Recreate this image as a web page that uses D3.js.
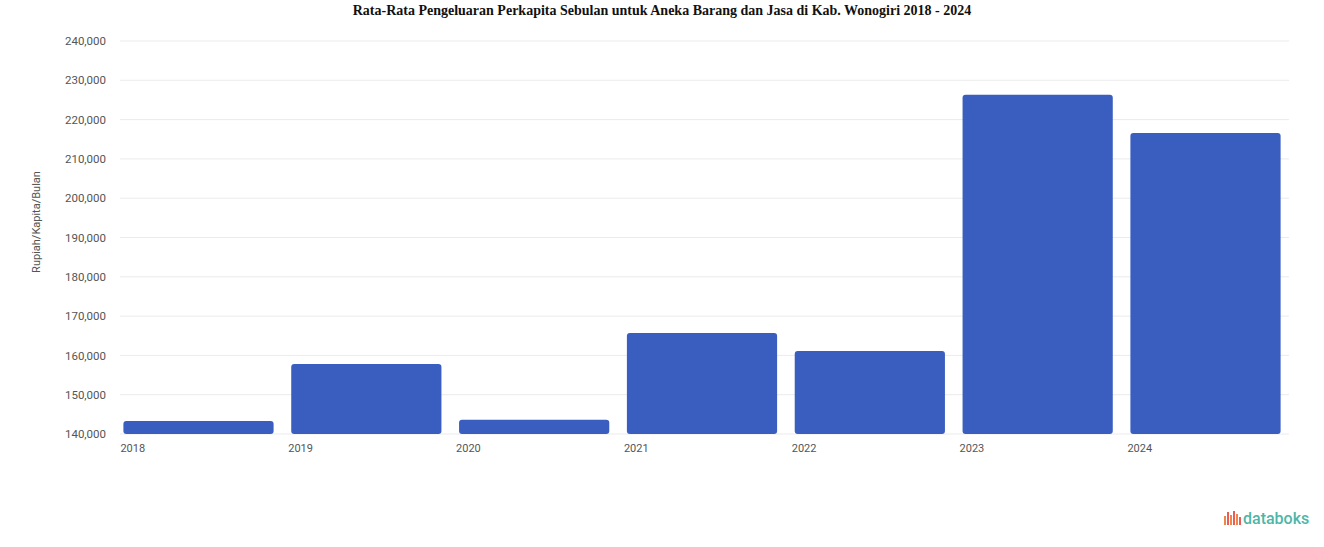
<!DOCTYPE html>
<html>
<head>
<meta charset="utf-8">
<script src="https://cdn.jsdelivr.net/npm/d3@7"></script>
<style>
  body{margin:0;background:#fff;}
  svg{display:block;}
</style>
</head>
<body>
<script>
var w=1324;
var h=547;

// data
var years=["2018","2019","2020","2021","2022","2023","2024"];
var values=[143300,157800,143600,165700,161100,226300,216600];
var yTicks=[140000,150000,160000,170000,180000,190000,200000,210000,220000,230000,240000];

var title="Rata-Rata Pengeluaran Perkapita Sebulan untuk Aneka Barang dan Jasa di Kab. Wonogiri 2018 - 2024";
var yTitle="Rupiah/Kapita/Bulan";

var margin={left:115,right:35,top:41,bottom:113};

var svg=d3.select("body").append("svg")
  .attr("width",w).attr("height",h);

var x=d3.scaleBand().domain(years)
  .range([margin.left,w-margin.right])
  .paddingInner(0.105).paddingOuter(0.05);

var y=d3.scaleLinear().domain([140000,240000])
  .range([h-margin.bottom,margin.top]);

// grid
svg.append("g").selectAll("line")
  .data(yTicks)
  .enter()
  .append("line")
  .attr("x1",margin.left+5).attr("x2",w-margin.right)
  .attr("y1",function(d){return y(d);}).attr("y2",function(d){return y(d);})
  .attr("stroke","#ebebeb").attr("stroke-width",1);

// y axis
var yAxis=d3.axisLeft(y).tickValues(yTicks)
  .tickFormat(d3.format(",")).tickSize(0).tickPadding(6);
var ya=svg.append("g").attr("transform","translate("+(margin.left-3)+",0)").call(yAxis);
ya.select(".domain").remove();
ya.selectAll("text").attr("fill","#555").style("font-family","Roboto, sans-serif").style("font-size","11.5px");

// bars
svg.append("g").selectAll("rect")
  .data(values)
  .enter()
  .append("rect")
  .attr("x",function(d,i){return x(years[i]);})
  .attr("y",function(d){return y(d);})
  .attr("width",x.bandwidth())
  .attr("height",function(d){return y(140000)-y(d);})
  .attr("rx",3)
  .attr("fill","#3a5dc0");

// x labels
svg.append("g").selectAll("text")
  .data(years)
  .enter()
  .append("text")
  .attr("x",function(d){return x(d)-3;})
  .attr("y",h-margin.bottom+18)
  .attr("fill","#555")
  .style("font-family","Roboto, sans-serif")
  .style("font-size","11px")
  .text(function(d){return d;});

// y title
svg.append("text")
  .attr("transform","translate(40,222) rotate(-90)")
  .attr("text-anchor","middle")
  .attr("fill","#555")
  .style("font-family","Roboto, sans-serif")
  .style("font-size","11px")
  .text(yTitle);

// title
svg.append("text")
  .attr("x",w/2).attr("y",15)
  .attr("text-anchor","middle")
  .attr("fill","#111")
  .style("font-family","'Liberation Serif', serif")
  .style("font-weight","bold")
  .style("font-size","14px")
  .text(title);

// databoks logo
var logo=svg.append("g").attr("transform","translate(1224,511)");
var lb=[[0,5,"#f0874a"],[3,1,"#ec5b55"],[6,4,"#f0874a"],[9,0,"#ec5b55"],[12,3,"#f0874a"],[15,6,"#ec5b55"]];
logo.selectAll("rect").data(lb).enter().append("rect")
  .attr("x",function(d){return d[0];}).attr("y",function(d){return d[1];})
  .attr("width",2).attr("height",function(d){return 14-d[1];})
  .attr("fill",function(d){return d[2];});
logo.append("text")
  .attr("x",19).attr("y",13)
  .attr("fill","#4db6a8")
  .style("font-family","Roboto, sans-serif")
  .style("font-weight","500")
  .style("font-size","16px")
  .text("databoks");
</script>
</body>
</html>
